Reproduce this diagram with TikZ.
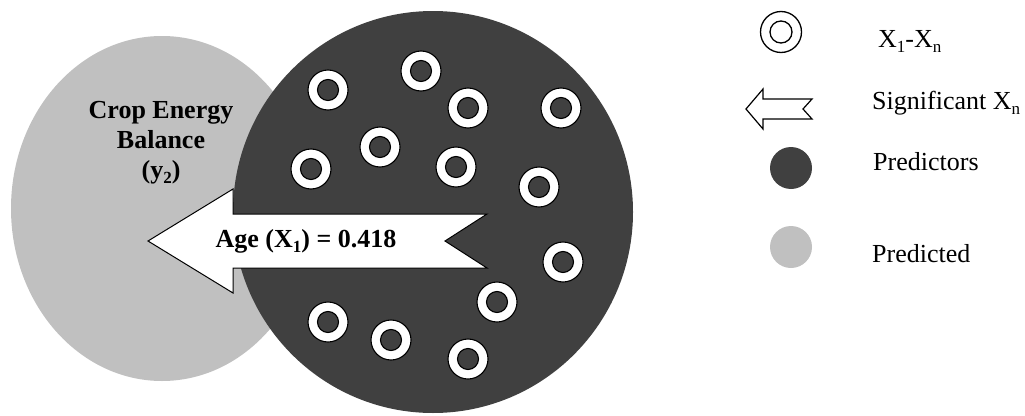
\documentclass[tikz,border=0pt]{standalone}
\usepackage{fontspec}
\setmainfont{Liberation Serif}
\definecolor{darkg}{HTML}{404040}
\definecolor{lightg}{HTML}{C0C0C0}
\newcommand\sbs[1]{\raisebox{-0.2em}{\fontsize{17}{17}\selectfont #1}}
\begin{document}
\begin{tikzpicture}[x=1pt,y=-1pt,
  big/.style={font=\fontsize{26}{30}\selectfont\bfseries, inner sep=0pt, anchor=base},
  leg/.style={font=\fontsize{26}{30}\selectfont, inner sep=0pt, anchor=base west},
  ringout/.style={circle, draw=black, line width=1.1pt, fill=white, minimum size=40pt, inner sep=0pt},
  ringin/.style={circle, draw=black, line width=1.1pt, fill=darkg, minimum size=21pt, inner sep=0pt},
  arrowshape/.style={draw=black, line width=1pt, fill=white, line join=miter}
]
\useasboundingbox (0,0) rectangle (1025,415);
% predicted ellipse
\fill[lightg] (162,208.5) ellipse [x radius=151, y radius=172.5];
\node[big, align=center] (t1) at (161,118) {Crop Energy};
\node[big] (t2) at (161,148) {Balance};
\node[big] (t3) at (161,178) {(y\sbs{2})};
% predictors circle
\fill[darkg] (433,212) ellipse [x radius=200, y radius=201];
% significant arrow
\draw[arrowshape] (148,241) -- (233,189) -- (233,214) -- (487,214) -- (445,241)
  -- (487,268) -- (233,268) -- (233,293) -- cycle;
\node[big] (age) at (306,247) {Age (X\sbs{1}) = 0.418};
% rings
\foreach \i/\x/\y in {1/328/90, 2/421/71, 3/468/108, 4/561/108, 5/380/147, 6/311/169,
  7/456/167, 8/539/187, 9/563/262, 10/497/302, 11/328/322, 12/391/340, 13/468/359} {
  \node[ringout] (r\i) at (\x,\y) {};
  \node[ringin] (ri\i) at (\x,\y) {};
}
% legend
\draw[line width=1.3pt] (781,32) circle [radius=20.5];
\draw[line width=1.3pt] (781,32) circle [radius=11];
\node[leg] (l1) at (878,47) {X\sbs{1}-X\sbs{n}};
\draw[arrowshape, line width=1.2pt] (746,109) -- (763,89) -- (763,99) -- (812,99) -- (803,109)
  -- (812,119) -- (763,119) -- (763,129) -- cycle;
\node[leg] (l2) at (872,109) {Significant X\sbs{n}};
\fill[darkg] (791,168) circle [radius=21];
\node[leg] (l3) at (873,170) {Predictors};
\fill[lightg] (791,247) circle [radius=21];
\node[leg] (l4) at (872,262) {Predicted};
\end{tikzpicture}
\end{document}
